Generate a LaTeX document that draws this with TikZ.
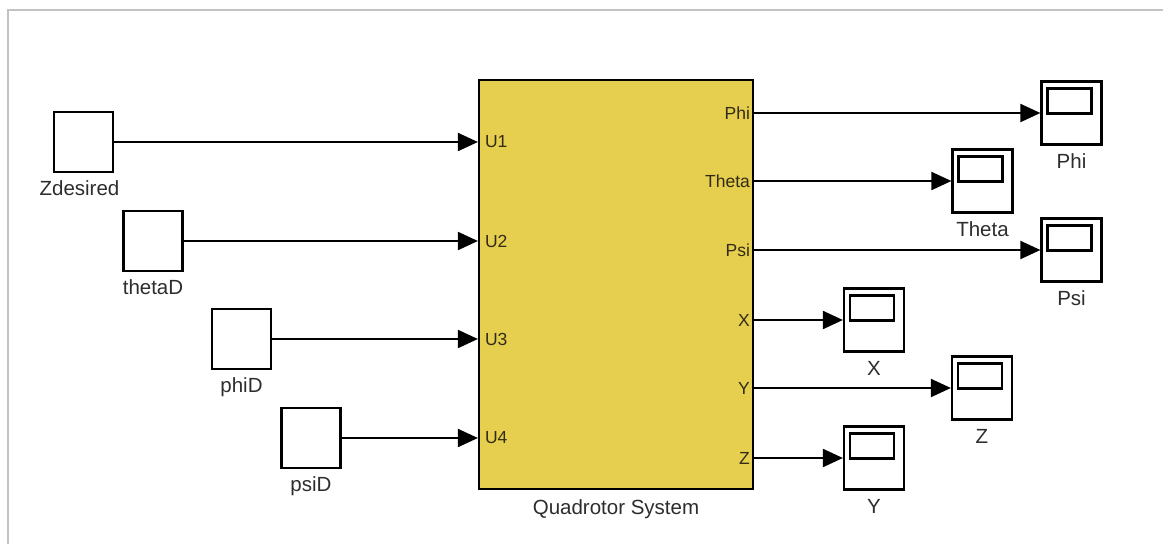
\documentclass[tikz,border=0pt]{standalone}
\usepackage{fontspec}
\setmainfont{Liberation Sans}
\usetikzlibrary{arrows.meta}
\definecolor{blockfill}{RGB}{230,206,78}
\definecolor{framegray}{RGB}{195,195,195}
\definecolor{txt}{RGB}{45,45,45}
\definecolor{porttxt}{RGB}{50,44,22}
\begin{document}
\begin{tikzpicture}[x=1pt,y=-1pt,
  srcbox/.style={draw=black,line width=2.2pt,fill=white,minimum width=59pt,minimum height=60pt,inner sep=0pt},
  scopebox/.style={draw=black,line width=2.2pt,fill=white,minimum width=60pt,minimum height=63pt,inner sep=0pt},
  sysbox/.style={draw=black,line width=2.2pt,fill=blockfill,minimum width=274pt,minimum height=409pt,inner sep=0pt},
  lbl/.style={text=txt,font=\fontsize{20.5}{24}\selectfont,inner sep=0pt,anchor=base},
  portlbl/.style={text=porttxt,font=\fontsize{17.5}{20}\selectfont,inner sep=0pt},
  sig/.style={line width=2pt,-{Triangle[length=20pt,width=18pt]}},
]
\useasboundingbox (0,0) rectangle (1163,544);
\draw[framegray,line width=2pt] (8,544) -- (8,10) -- (1163,10);

% main block
\node[sysbox] (sys) at (616,284.5) {};
\node[lbl] (syslbl) at ([yshift=-24pt]sys.south) {Quadrotor System};

% sources
\node[srcbox] (zd) at (83.5,142) {};
\node[srcbox] (thd) at (153,241) {};
\node[srcbox] (phd) at (241.5,339) {};
\node[srcbox] (psd) at (311,438) {};
\node[lbl] (zdl) at ([xshift=-4pt,yshift=-22pt]zd.south) {Zdesired};
\node[lbl] (thdl) at ([yshift=-22pt]thd.south) {thetaD};
\node[lbl] (phdl) at ([yshift=-22pt]phd.south) {phiD};
\node[lbl] (psdl) at ([yshift=-22pt]psd.south) {psiD};

% scopes
\node[scopebox] (sphi) at (1071.5,113) {};
\node[scopebox] (stheta) at (982.5,181) {};
\node[scopebox] (spsi) at (1071.5,250) {};
\node[scopebox] (sx) at (874,320) {};
\node[scopebox] (sz) at (982,388) {};
\node[scopebox] (sy) at (874,458) {};
\foreach \s in {sphi,stheta,spsi,sx,sz,sy}
  \draw[line width=2.2pt] ([shift={(7pt,-8pt)}]\s.north west) rectangle ++(44,25);
\node[lbl] (sphil) at ([yshift=-23pt]sphi.south) {Phi};
\node[lbl] (sthetal) at ([yshift=-23pt]stheta.south) {Theta};
\node[lbl] (spsil) at ([yshift=-23pt]spsi.south) {Psi};
\node[lbl] (sxl) at ([yshift=-23pt]sx.south) {X};
\node[lbl] (szl) at ([yshift=-23pt]sz.south) {Z};
\node[lbl] (syl) at ([yshift=-23pt]sy.south) {Y};

% input signals and port labels
\foreach \n/\p in {zd/U1,thd/U2,phd/U3,psd/U4}{
  \draw[sig] (\n.east) -- (sys.west |- \n.east);
  \path (sys.west |- \n.east) node[portlbl,anchor=west,xshift=7pt] (p\p) {\p};
}

% output signals and port labels
\foreach \n/\p in {sphi/Phi,stheta/Theta,spsi/Psi,sx/X,sz/Y,sy/Z}{
  \draw[sig] (sys.east |- \n.west) -- (\n.west);
  \path (sys.east |- \n.west) node[portlbl,anchor=east,xshift=-4pt] (o\p) {\p};
}
\end{tikzpicture}
\end{document}
